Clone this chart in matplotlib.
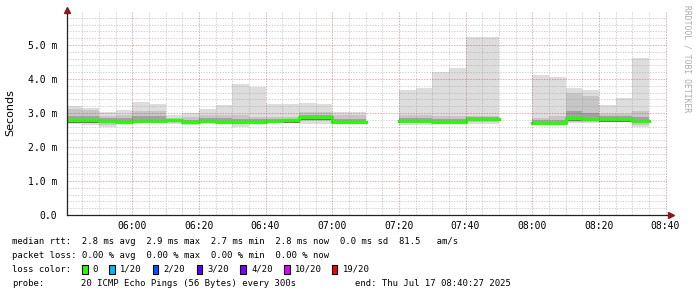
import numpy as np
import matplotlib.pyplot as plt
from matplotlib.patches import Rectangle

W, H = 697, 297
MONO = "DejaVu Sans Mono"

# 5 minute steps, start of each step in minutes after 05:40
steps = np.arange(0, 175, 5)
nan = np.nan

# smoke: min / max of the 20 pings and two inner ranges (ms)
rtt_lo = [2.68, 2.65, 2.58, 2.68, 2.70, 2.70, 2.68, 2.64, 2.68, 2.68, 2.58, 2.68,
          2.72, 2.72, 2.68, 2.68, 2.70, 2.70, nan, nan, 2.64, 2.66, 2.68, 2.70,
          2.68, 2.68, nan, nan, 2.68, 2.66, 2.70, 2.72, 2.73, 2.73, 2.58]
rtt_hi = [3.21, 3.16, 3.02, 3.09, 3.33, 3.27, 2.94, 2.99, 3.12, 3.24, 3.85, 3.77,
          3.26, 3.26, 3.29, 3.26, 3.03, 3.03, nan, nan, 3.68, 3.74, 4.20, 4.32,
          5.24, 5.24, nan, nan, 4.12, 4.06, 3.74, 3.68, 3.24, 3.44, 4.62]
rtt_p10 = [2.72, 2.70, 2.66, 2.70, 2.72, 2.72, 2.72, 2.68, 2.72, 2.72, 2.70, 2.72,
           2.74, 2.74, 2.76, 2.76, 2.72, 2.72, nan, nan, 2.70, 2.70, 2.72, 2.72,
           2.74, 2.74, nan, nan, 2.70, 2.70, 2.74, 2.74, 2.74, 2.74, 2.66]
rtt_p90 = [3.12, 3.08, 2.92, 2.95, 3.05, 3.05, 2.86, 2.88, 2.95, 2.95, 2.95, 2.88,
           2.88, 2.88, 3.02, 3.02, 2.95, 2.95, nan, nan, 2.95, 2.95, 2.92, 2.92,
           2.92, 2.92, nan, nan, 2.85, 2.90, 3.60, 3.50, 2.98, 2.98, 3.05]
rtt_p25 = [2.74, 2.74, 2.72, 2.70, 2.72, 2.72, 2.75, 2.70, 2.72, 2.71, 2.71, 2.71,
           2.74, 2.75, 2.82, 2.82, 2.71, 2.71, nan, nan, 2.73, 2.73, 2.72, 2.72,
           2.78, 2.78, nan, nan, 2.69, 2.69, 2.79, 2.79, 2.77, 2.77, 2.72]
rtt_p75 = [2.92, 2.90, 2.85, 2.85, 2.90, 2.90, 2.82, 2.80, 2.85, 2.85, 2.82, 2.82,
           2.82, 2.82, 2.95, 2.95, 2.82, 2.82, nan, nan, 2.85, 2.85, 2.82, 2.82,
           2.88, 2.88, nan, nan, 2.78, 2.80, 3.05, 3.00, 2.90, 2.90, 2.88]
rtt_med = [2.78, 2.78, 2.76, 2.74, 2.76, 2.76, 2.79, 2.73, 2.76, 2.75, 2.75, 2.75,
           2.77, 2.78, 2.87, 2.87, 2.74, 2.74, nan, nan, 2.77, 2.77, 2.75, 2.75,
           2.82, 2.82, nan, nan, 2.71, 2.71, 2.84, 2.83, 2.81, 2.81, 2.76]

tick_pos = [20, 40, 60, 80, 100, 120, 140, 160, 180]
tick_lab = ["06:00", "06:20", "06:40", "07:00", "07:20", "07:40", "08:00", "08:20", "08:40"]
ytick_pos = [0, 1, 2, 3, 4, 5]
ytick_lab = ["0.0", "1.0 m", "2.0 m", "3.0 m", "4.0 m", "5.0 m"]

loss_labels = ["0", "1/20", "2/20", "3/20", "4/20", "10/20", "19/20"]
loss_colors = ["#26ff00", "#00b8ff", "#0059ff", "#5e00ff", "#7e00ff", "#dd00ff", "#ff0000"]

fig = plt.figure(figsize=(W / 100, H / 100), dpi=100)
fig.patch.set_facecolor("white")
ax = fig.add_axes([67 / W, (H - 215) / H, 600 / W, 204 / H])

lo = np.array(rtt_lo)
hi = np.array(rtt_hi)
p10, p90 = np.array(rtt_p10), np.array(rtt_p90)
p25, p75 = np.array(rtt_p25), np.array(rtt_p75)
med = np.array(rtt_med)

# smoke
ax.bar(steps, hi - lo, bottom=lo, width=5, align="edge", color="#dddddd", linewidth=0, zorder=1)
ax.bar(steps, p90 - p10, bottom=p10, width=5, align="edge", color="#c6c6c6", linewidth=0, zorder=1)
ax.bar(steps, p75 - p25, bottom=p25, width=5, align="edge", color="#a2a2a2", linewidth=0, zorder=1)

# median, coloured by loss
xe = np.append(steps, steps[-1] + 5)
ye = np.append(med, med[-1])
ax.step(xe, ye - 0.035, where="post", color="#5a5a5a", linewidth=0.6, zorder=2)
ax.step(xe, ye, where="post", color=loss_colors[0], linewidth=2.3, zorder=3)

ax.set_xlim(0.45, 180.45)
ax.set_ylim(0, 6.0)

# grid
dots = (0, (1.4, 1.4))
for m in np.arange(5, 181, 5):
    if m % 20:
        ax.axvline(m, color=(0.55, 0.55, 0.55, 0.4), lw=0.7, ls=dots, zorder=4)
for v in np.arange(0.2, 6.0, 0.2):
    if abs(v - round(v)) > 0.01:
        ax.axhline(v, color=(0.55, 0.55, 0.55, 0.4), lw=0.7, ls=dots, zorder=4)
for m in tick_pos:
    ax.axvline(m, color=(0.6, 0.15, 0.15, 0.38), lw=0.7, ls=dots, zorder=4)
for v in ytick_pos[1:]:
    ax.axhline(v, color=(0.6, 0.15, 0.15, 0.38), lw=0.7, ls=dots, zorder=4)

for s in ["top", "right"]:
    ax.spines[s].set_visible(False)
for s in ["left", "bottom"]:
    ax.spines[s].set_color("#222222")
    ax.spines[s].set_linewidth(0.9)
    ax.spines[s].set_zorder(5)

ax.set_xticks(tick_pos)
ax.set_xticklabels(tick_lab, fontfamily=MONO, fontsize=7)
ax.set_yticks(ytick_pos)
ax.set_yticklabels(ytick_lab, fontfamily=MONO, fontsize=7)
ax.tick_params(axis="x", length=0, pad=4)
ax.tick_params(axis="y", length=0, pad=7)
ax.set_ylabel("Seconds", fontsize=8, labelpad=9)

# arrows
ax.plot([0], [1.005], marker="^", color="#8b1a1a", markersize=4, transform=ax.transAxes,
        clip_on=False, zorder=6)
ax.plot([1.006], [0], marker=">", color="#8b1a1a", markersize=4, transform=ax.transAxes,
        clip_on=False, zorder=6)


def ftext(px, py, s, **kw):
    kw.setdefault("fontfamily", MONO)
    kw.setdefault("fontsize", 6.4)
    kw.setdefault("va", "center")
    fig.text(px / W, 1 - py / H, s, **kw)


ftext(687, 5, "RRDTOOL / TOBI OETIKER", rotation=270, ha="center", va="top",
      fontsize=5.8, color="#aaaaaa")

ftext(12, 241, "median rtt:  2.8 ms avg  2.9 ms max  2.7 ms min  2.8 ms now  0.0 ms sd  81.5   am/s")
ftext(12, 255.5, "packet loss: 0.00 % avg  0.00 % max  0.00 % min  0.00 % now")
ftext(12, 269, "loss color:")
sq_x = [81.7, 109, 152.5, 196.5, 240, 284, 331.5]
for x, lab, col in zip(sq_x, loss_labels, loss_colors):
    fig.patches.append(Rectangle((x / W, 1 - 273.5 / H), 5.8 / W, 8.3 / H, transform=fig.transFigure,
                                 facecolor=col, edgecolor="black", linewidth=0.8))
    ftext(x + 11, 269, lab)
ftext(12, 283, "probe:")
ftext(80.7, 283, "20 ICMP Echo Pings (56 Bytes) every 300s")
ftext(511, 283, "end: Thu Jul 17 08:40:27 2025", ha="right")

fig.savefig("out.png", dpi=100)
